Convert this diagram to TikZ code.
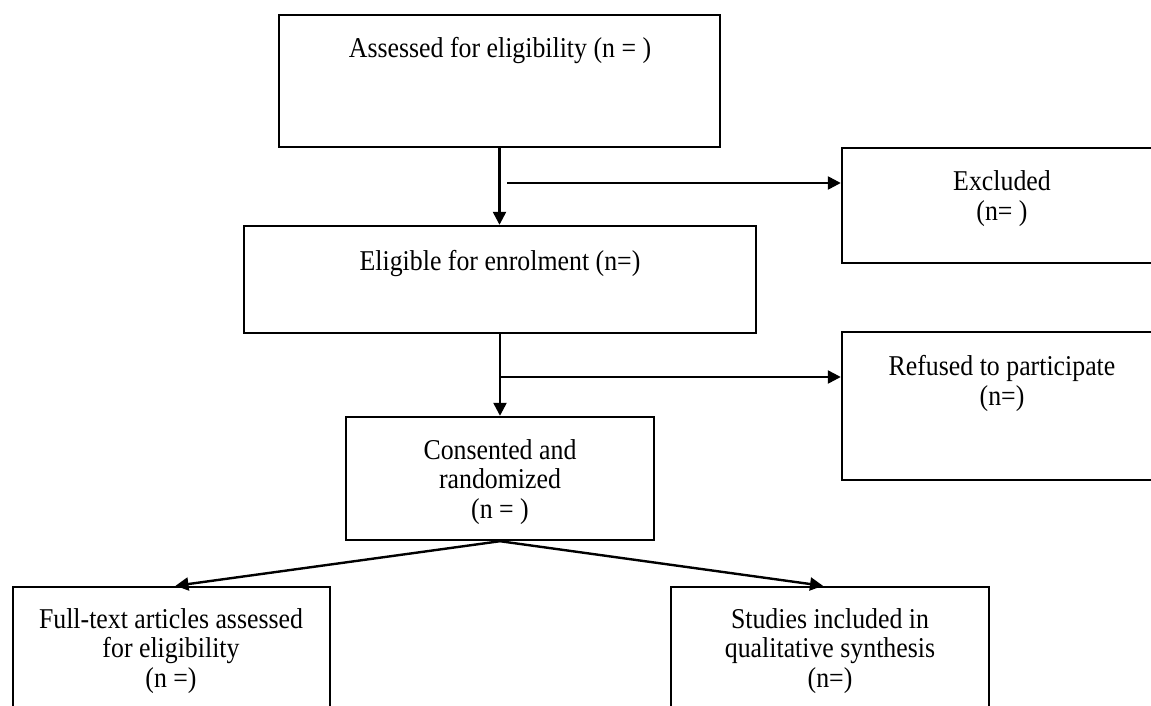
\documentclass[tikz,border=0pt]{standalone}
\usepackage{fontspec}
\setmainfont[FakeStretch=0.9]{Liberation Serif}
\usetikzlibrary{arrows.meta,positioning}

\begin{document}
\begin{tikzpicture}
	[
		x=1pt, y=-1pt,
		font=\fontsize{28.7}{29.5}\selectfont,
		box/.style={draw, line width=2.4pt, inner sep=0pt},
		txt/.style={draw=none, fill=none, align=center, anchor=base, inner sep=0pt},
		arrow/.style={-{Triangle[length=13pt,width=13pt]}, line width=2.4pt}
	]

	\useasboundingbox (0,0) rectangle (1151,706);
	\clip (0,0) rectangle (1151,706);

	% boxes
	\node[box, minimum width=441pt, minimum height=132pt] (assess) at ( 499.5,  81.0 ) {};
	\node[box, minimum width=512pt, minimum height=107pt] (elig)   at ( 500.0, 279.5 ) {};
	\node[box, minimum width=320pt, minimum height=115pt] (excl)   at (1002.0, 205.5 ) {};
	\node[box, minimum width=320pt, minimum height=148pt] (refu)   at (1002.0, 406.0 ) {};
	\node[box, minimum width=308pt, minimum height=123pt] (cons)   at ( 500.0, 478.5 ) {};
	\node[box, minimum width=317pt, minimum height=152pt] (full)   at ( 171.5, 663.0 ) {};
	\node[box, minimum width=318pt, minimum height=152pt] (stud)   at ( 830.0, 663.0 ) {};

	% box texts (base = last line)
	\node[txt] (tassess) at ( 500,  58 ) {Assessed for eligibility (n = )};
	\node[txt] (telig)   at ( 500, 270 ) {Eligible for enrolment (n=)};
	\node[txt] (texcl)   at (1002, 220 ) {Excluded\\(n= )};
	\node[txt] (trefu)   at (1002, 405 ) {Refused to participate\\(n=)};
	\node[txt] (tcons)   at ( 500, 518 ) {Consented and\\randomized\\(n = )};
	\node[txt] (tfull)   at ( 171, 687 ) {Full-text articles assessed\\for eligibility\\(n =)};
	\node[txt] (tstud)   at ( 830, 687 ) {Studies included in\\qualitative synthesis\\(n=)};

	% branch points
	\coordinate (b1) at ( 507, 183 );
	\coordinate (b2) at ( 500, 377 );

	% connectors
	\draw[arrow] (assess.south) -- (assess.south |- elig.north);
	\draw[arrow] (b1) -- (b1 -| excl.west);
	\draw[arrow] (elig.south) -- (cons.north);
	\draw[arrow] (b2) -- (b2 -| refu.west);
	\draw[arrow] (cons.south) -- ([xshift=4pt]full.north);
	\draw[arrow] (cons.south) -- ([xshift=-7pt]stud.north);

\end{tikzpicture}
\end{document}
